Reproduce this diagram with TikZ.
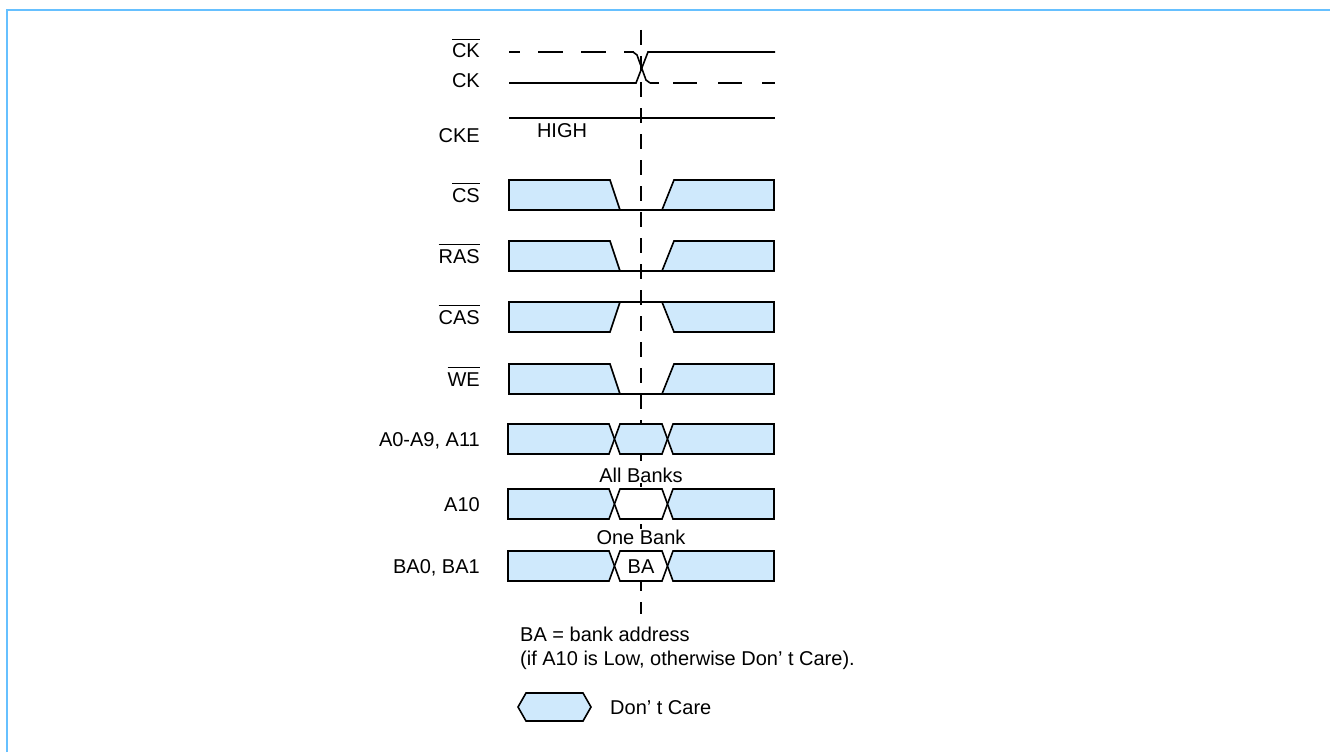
\documentclass[tikz,border=0pt]{standalone}
\usepackage{fontspec}
\setmainfont{Liberation Sans}
\definecolor{dc}{RGB}{207,233,252}
\definecolor{framecol}{RGB}{102,192,255}
\newcommand\ovl[1]{\setbox0\hbox{#1}\rlap{\raisebox{\dimexpr\ht0+4pt\relax}{\rule{\wd0}{1.4pt}}}\box0}
\tikzset{
  sig/.style={line width=1.6pt, line join=miter, draw=black},
  lbl/.style={anchor=base east, inner sep=0pt},
  txt/.style={anchor=base, inner sep=0pt},
  btxt/.style={anchor=base, inner sep=1pt, fill=white},
  ltxt/.style={anchor=base west, inner sep=0pt},
  refline/.style={line width=1.5pt, dash pattern=on 15pt off 11pt},
}
\newcommand\lowpulse[2]{%
  \fill[dc] (509,#1)--(610,#1)--(620,#2)--(509,#2)--cycle;
  \fill[dc] (674,#1)--(774,#1)--(774,#2)--(662,#2)--cycle;
  \draw[sig] (620,#2)--(610,#1)--(509,#1)--(509,#2)--(774,#2)--(774,#1)--(674,#1)--(662,#2);}
\newcommand\highpulse[2]{%
  \fill[dc] (509,#1)--(620,#1)--(610,#2)--(509,#2)--cycle;
  \fill[dc] (662,#1)--(774,#1)--(774,#2)--(674,#2)--cycle;
  \draw[sig] (620,#1)--(610,#2)--(509,#2)--(509,#1)--(774,#1)--(774,#2)--(674,#2)--(662,#1);}
\newcommand\busrow[3]{%
  \pgfmathsetmacro\mym{(#1+#2)/2}
  \filldraw[sig,fill=dc] (508,#1)--(609,#1)--(614.5,\mym)--(609,#2)--(508,#2)--cycle;
  \filldraw[sig,fill=#3] (614.5,\mym)--(620,#1)--(662,#1)--(667.5,\mym)--(662,#2)--(620,#2)--cycle;
  \filldraw[sig,fill=dc] (667.5,\mym)--(673,#1)--(774,#1)--(774,#2)--(673,#2)--cycle;}
\begin{document}
\begin{tikzpicture}[x=1pt,y=-1pt]
\useasboundingbox (0,0) rectangle (1330,752);
\fontsize{20}{24}\selectfont
% frame
\draw[framecol, line width=2pt] (7,752) -- (7,10) -- (1330,10);
% reference dashed line
\coordinate (rtop) at (641,30);
\coordinate (rbot) at (641,614);
\draw[refline] (rtop) -- (rbot);
% CK bar
\draw[line width=1.6pt, dash pattern=on 25pt off 18pt, dash phase=14pt] (509,52) -- (634,52);
\draw[line width=1.6pt] (633,52) -- (637,55) -- (646,80) -- (650,83);
\draw[line width=1.6pt, dash pattern=on 9pt off 14pt on 24pt off 21pt on 24pt off 20pt on 24pt] (650,83) -- (775,83);
% CK
\draw[line width=1.6pt] (509,83) -- (636,83) -- (648,52) -- (775,52);
% CKE
\draw[line width=1.6pt] (509,118) -- (775,118);
% pulses
\lowpulse{180}{210}
\lowpulse{241}{271}
\highpulse{302}{332}
\lowpulse{364}{394}
% buses
\busrow{424}{454}{dc}
\busrow{489}{519}{white}
\busrow{551}{581}{white}
% labels
\node[lbl] (lckb) at (480,58) {\ovl{CK}};
\node[lbl] (lck) at (480,88) {CK};
\node[lbl] (lcke) at (480,142) {CKE};
\node[txt] (high) at (562,137) {HIGH};
\node[lbl] (lcs) at (480,202) {\ovl{CS}};
\node[lbl] (lras) at (480,263) {\ovl{RAS}};
\node[lbl] (lcas) at (480,324) {\ovl{CAS}};
\node[lbl] (lwe) at (480,386) {\ovl{WE}};
\node[lbl] (la0) at (480,446) {A0-A9, A11};
\node[lbl] (la10) at (480,511) {A10};
\node[lbl] (lba) at (480,573) {BA0, BA1};
\node[btxt] (allb) at (641,482) {All Banks};
\node[btxt] (oneb) at (641,544) {One Bank};
\node[txt] (bain) at (641,573) {BA};
% notes
\node[ltxt] (n1) at (520,641) {BA = bank address};
\node[ltxt] (n2) at (520,665) {(if A10 is Low, otherwise Don’ t Care).};
% legend
\filldraw[sig,fill=dc] (518,707) -- (526,693) -- (583,693) -- (591,707) -- (583,721) -- (526,721) -- cycle;
\node[ltxt] (dcl) at (610,714) {Don’ t Care};
\end{tikzpicture}
\end{document}
